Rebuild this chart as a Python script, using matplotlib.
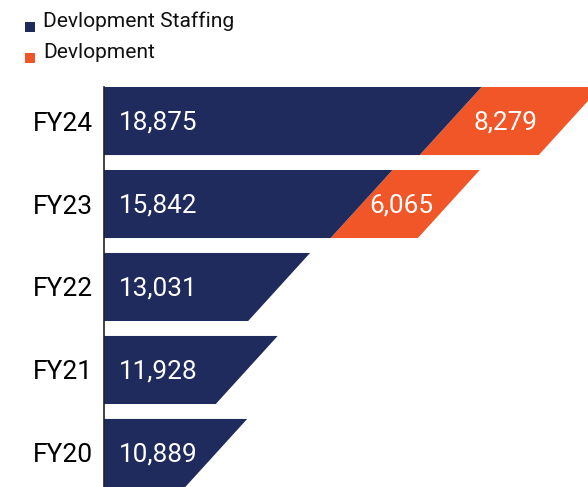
import matplotlib.pyplot as plt
from matplotlib.patches import Rectangle

plt.rcParams['font.family'] = ['Roboto', 'DejaVu Sans']

years = ["FY20", "FY21", "FY22", "FY23", "FY24"]
staffing = [10889, 11928, 13031, 15842, 18875]
devlopment = [None, None, None, 6065, 8279]

navy = "#1f2b5c"
orange = "#f15628"

x_start = 8120
x_end = 24610
slant = 2110      # horizontal shift of the slanted right edge
dev_scale = 0.49  # orange segments drawn at about half scale
h = 0.82

fig = plt.figure(figsize=(5.88, 4.87), dpi=100)
ax = fig.add_axes([104 / 588, 0, 1 - 104 / 588, 400 / 487])

for i, (yr, v) in enumerate(zip(years, staffing)):
    y0, y1 = i - h / 2, i + h / 2
    ax.fill([x_start, v, v + slant, x_start], [y0, y0, y1, y1],
            color=navy, lw=0)
    ax.annotate(f"{v:,}", xy=(x_start, i), xytext=(11, -1),
                textcoords="offset points", color="white",
                fontsize=18.8, va="center", ha="left")
    d = devlopment[i]
    if d:
        e = v + d * dev_scale
        ax.text((v + e + slant) / 2 - 150, i - 0.02, f"{d:,}", color="white",
                fontsize=18.8, va="center", ha="center")
        ax.fill([v, e, e + slant, v + slant], [y0, y0, y1, y1],
                color=orange, lw=0, zorder=0.5)

ax.set_xlim(x_start, x_end)
ax.set_ylim(-h / 2, len(years) - 1 + h / 2)
ax.set_yticks(range(len(years)))
ax.set_yticklabels(years, fontsize=19)
ax.tick_params(axis="y", length=0, pad=8)
ax.set_xticks([])
for s in ["top", "right", "bottom"]:
    ax.spines[s].set_visible(False)
ax.spines["left"].set_color("#222222")
ax.spines["left"].set_linewidth(1.2)
ax.patch.set_alpha(0)

# legend
legend = [("Devlopment Staffing", navy, 22), ("Devlopment", orange, 53)]
for label, c, top in legend:
    fig.patches.append(Rectangle((25 / 588, 1 - (top + 10) / 487), 10 / 588, 10 / 487,
                                 transform=fig.transFigure, color=c, lw=0))
    fig.text(43 / 588, 1 - (top + 5) / 487, label, fontsize=15.1,
             color="#111111", va="baseline")

fig.savefig("out.png", dpi=100)
